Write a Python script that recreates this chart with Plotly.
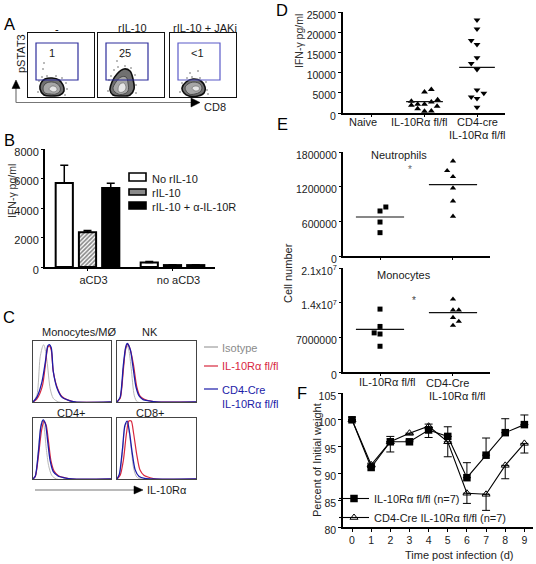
import plotly.graph_objects as go

W, H = 536, 564
FONT = "Liberation Sans, Arial, sans-serif"
INK = "#1a1a1a"
RED = "#d8283f"
BLUE = "#1c1ca8"
GREY = "#b8b8b8"

# Panel A: flow contour outlines (x, y inside each gate plot)
flow_labels = ["-", "rIL-10", "rIL-10 + JAKi"]
flow_percent = ["1", "25", "<1"]
outer_x = [[12, 13, 17, 24, 31, 35, 36, 32, 24, 16, 12],
           [12, 14, 19, 26, 32, 35, 36, 32, 22, 15, 12],
           [12, 16, 23, 31, 35, 34, 28, 19, 14, 12]]
outer_y = [[8, 14, 18, 19, 17, 12, 6, 2, 1, 2, 8],
           [7, 15, 23, 28, 26, 18, 8, 2, 1, 2, 7],
           [9, 15, 18, 16, 10, 4, 1, 1, 4, 9]]
mid_x = [[15, 17, 22, 28, 32, 32, 28, 22, 17, 15],
         [15, 18, 23, 28, 30, 30, 26, 20, 15],
         [15, 18, 24, 30, 32, 30, 25, 19, 15]]
mid_y = [[8, 13, 15, 14, 10, 6, 3, 3, 4, 8],
         [8, 15, 20, 20, 14, 6, 3, 3, 8],
         [9, 13, 15, 13, 9, 5, 3, 3, 9]]
core_x = [[21, 24, 28, 29, 26, 23, 21],
          [20, 22, 26, 28, 25, 21, 20],
          [22, 25, 29, 29, 25, 22]]
core_y = [[8, 11, 10, 7, 5, 6, 8],
          [8, 13, 14, 9, 5, 5, 8],
          [9, 11, 10, 7, 6, 9]]
speck_x = [[10, 11, 14, 19, 28, 34, 38, 39, 37, 16, 15],
           [10, 11, 13, 16, 20, 27, 33, 37, 38, 38, 19, 24],
           [10, 12, 17, 22, 30, 36, 37, 38, 20, 28]]
speck_y = [[5, 16, 20, 21, 21, 19, 14, 8, 2, 34, 28],
           [6, 17, 21, 27, 30, 31, 29, 22, 12, 4, 36, 40],
           [5, 14, 19, 20, 19, 15, 7, 3, 24, 26]]
gate_x = [8, 50]
gate_y = [17, 54]

# Panel B
b_groups = ["aCD3", "no aCD3"]
b_names = ["No rIL-10", "rIL-10", "rIL-10 + α-IL-10R"]
b_no = [5700, 300]
b_no_err = [1200, 70]
b_ril = [2350, 130]
b_ril_err = [130, 30]
b_block = [5350, 130]
b_block_err = [330, 30]
b_ticks = [0, 2000, 4000, 6000, 8000]

# Panel C: histograms (percent of channel range, percent of peak)
hist_titles = ["Monocytes/MØ", "NK", "CD4+", "CD8+"]
iso_x = [[0, 5, 9, 12, 13.6, 15, 18, 22, 26, 33, 100],
         [0, 4, 8, 11, 13, 15, 18, 22, 26, 100],
         [0, 3, 7, 10, 12, 14, 17, 20, 24, 30, 100],
         [0, 3, 7, 10, 13, 15, 18, 21, 26, 100]]
iso_y = [[0, 11, 72, 90, 94, 90, 67, 22, 6, 0, 0],
         [0, 6, 55, 85, 92, 85, 55, 10, 0, 0],
         [0, 5, 50, 88, 96, 88, 50, 22, 6, 0, 0],
         [0, 6, 45, 85, 92, 80, 50, 18, 2, 0]]
red_x = [[0, 5, 12, 16, 19, 21, 23.4, 26, 31, 37, 45, 54, 100],
         [0, 4, 8, 11, 14, 17, 21, 25, 29, 34, 41, 52, 100],
         [0, 3, 7, 11, 14, 17, 20, 23, 27, 33, 41, 50, 100],
         [0, 4, 8, 12, 15, 18, 21, 25, 29, 34, 42, 50, 100]]
red_y = [[0, 5, 26, 62, 90, 92, 85, 50, 24, 9, 3, 0, 0],
         [0, 6, 52, 88, 95, 85, 60, 25, 10, 5, 2, 0, 0],
         [0, 4, 38, 80, 95, 88, 60, 30, 13, 5, 2, 0, 0],
         [0, 6, 30, 75, 95, 95, 75, 40, 15, 6, 2, 0, 0]]
blue_x = [[0, 5, 11.5, 16, 19, 21, 23.4, 26, 31, 37, 45, 54, 100],
          [0, 4, 8, 11, 13, 17, 20, 24, 28, 33, 40, 50, 100],
          [0, 3, 7, 10, 13, 16, 19, 22, 26, 32, 40, 50, 100],
          [0, 3, 7, 10, 13, 16, 19, 23, 28, 35, 100]]
blue_y = [[0, 8, 33, 67, 92, 94, 89, 50, 22, 8, 3, 0, 0],
          [0, 8, 60, 90, 96, 85, 60, 25, 10, 4, 2, 0, 0],
          [0, 5, 45, 85, 97, 90, 60, 30, 12, 5, 2, 0, 0],
          [0, 8, 50, 88, 95, 75, 45, 15, 4, 1, 0]]

# Panel D
d_groups = ["Naive", "IL-10Rα fl/fl", "CD4-cre", "IL-10Rα fl/fl"]
d_ticks = [0, 5000, 10000, 15000, 20000, 25000]
d_wt_x = [1, 1.13, 0.75, 1.25, 0.75, 0.87, 1, 1.13, 1.24, 0.87, 1, 1.13]
d_wt_y = [5215, 5795, 2900, 3310, 1900, 2150, 2150, 2730, 1650, 1075, 415, 500]
d_wt_mean = 2800
d_ko_x = [2, 2, 1.89, 2, 2, 1.89, 2, 2, 2.13, 1.89, 2, 2]
d_ko_y = [23010, 20780, 17960, 16970, 13660, 12250, 10760, 5710, 4880, 3970, 3560, 1410]
d_ko_mean = 11300

# Panel E
e_groups = ["IL-10Rα fl/fl", "CD4-Cre", "IL-10Rα fl/fl"]
neu_ticks = [0, 600000, 1200000, 1800000]
neu_wt_x = [0, 0.08, 0, 0]
neu_wt_y = [779000, 848000, 588000, 404000]
neu_wt_mean = 675000
neu_ko_x = [1, 0.92, 1, 1, 1, 1]
neu_ko_y = [1644000, 1477000, 1373000, 1177000, 952000, 687000]
neu_ko_mean = 1235000
mono_ticks = [0, 7000000, 14000000, 21000000]
mono_ticktext = ["0", "7000000", "1.4x10<sup>7</sup>", "2.1x10<sup>7</sup>"]
mono_wt_x = [0, 0, -0.08, 0, 0]
mono_wt_y = [12700000, 9200000, 7900000, 7670000, 5200000]
mono_wt_mean = 8600000
mono_ko_x = [1, 1, 1.08, 1, 1.08, 1]
mono_ko_y = [14700000, 12500000, 12500000, 11000000, 10200000, 9400000]
mono_ko_mean = 12000000

# Panel F
days = [0, 1, 2, 3, 4, 5, 6, 7, 8, 9]
f_wt = [100, 91.1, 95.9, 95.9, 98.1, 96.9, 89.2, 93.4, 97.6, 99.1]
f_wt_up = [0.5, 0.3, 1.0, 0.3, 0.5, 1.8, 2.8, 3.2, 2.6, 1.8]
f_wt_down = [0, 0, 0, 0, 1.4, 0, 0, 0, 0, 0]
f_ko = [100, 91.6, 95.9, 97.5, 98.8, 95.9, 86.3, 86.1, 91.5, 95.6]
f_ko_up = [0, 0.3, 0, 0, 0.4, 0, 0, 0, 0, 0]
f_ko_down = [0, 0.3, 1.9, 0.3, 0.5, 2.8, 1.9, 3.0, 2.5, 1.8]
f_ticks = [80, 85, 90, 95, 100, 105]


def xdom(a, b):
    return [a / W, b / W]


def ydom(top, bottom):
    return [1 - bottom / H, 1 - top / H]


fig = go.Figure()
layout = dict(
    width=W, height=H, autosize=False,
    margin=dict(l=0, r=0, t=0, b=0, autoexpand=False),
    paper_bgcolor="white", plot_bgcolor="rgba(0,0,0,0)",
    font=dict(family=FONT, size=10.5, color=INK),
    showlegend=True,
    barmode="group", bargap=0.18, bargroupgap=0.26,
)
annotations = []
shapes = []


def label(text, px, py, size=11, color=INK, angle=0, anchor="center"):
    annotations.append(dict(
        text=text, x=px / W, y=1 - py / H, xref="paper", yref="paper",
        showarrow=False, xanchor=anchor, yanchor="middle",
        textangle=angle, font=dict(family=FONT, size=size, color=color),
    ))


def pline(x0, y0, x1, y1, color="#777777", width=1.2):
    shapes.append(dict(type="line", xref="paper", yref="paper",
                       x0=x0 / W, y0=1 - y0 / H, x1=x1 / W, y1=1 - y1 / H,
                       line=dict(color=color, width=width)))


def ptri(pts):
    path = "M" + " L".join(f"{x / W:.5f},{1 - y / H:.5f}" for x, y in pts) + " Z"
    shapes.append(dict(type="path", xref="paper", yref="paper", path=path,
                       fillcolor="black", line=dict(color="black", width=0.5)))


def swatch(x0, y0, x1, y1, fill):
    shapes.append(dict(type="rect", xref="paper", yref="paper",
                       x0=x0 / W, y0=1 - y0 / H, x1=x1 / W, y1=1 - y1 / H,
                       fillcolor=fill, line=dict(color="black", width=1.6)))


def set_axes(n, xd, yd, xcfg, ycfg):
    layout[f"xaxis{n}"] = dict(domain=xd, anchor=f"y{n}", **xcfg)
    layout[f"yaxis{n}"] = dict(domain=yd, anchor=f"x{n}", **ycfg)


frame = dict(showline=True, linecolor="#111111", linewidth=1.2, mirror=True,
             showgrid=False, zeroline=False, showticklabels=False, ticks="")
plain = dict(showline=True, linecolor="black", linewidth=2, showgrid=False,
             zeroline=False, ticks="outside", ticklen=2, tickwidth=1.2, tickcolor="black",
             tickformat="d",
             tickfont=dict(family=FONT, size=10.5, color=INK))
plain_y = dict(plain, ticklabelshift=3)

# ---------- A ----------
flow_left = [28, 98, 170]
for i, left in enumerate(flow_left):
    n = i + 1
    set_axes(n, xdom(left, left + 66), ydom(33, 97),
             dict(frame, range=[0, 66]), dict(frame, range=[0, 64]))
    fig.add_trace(go.Scatter(x=speck_x[i], y=speck_y[i], mode="markers", xaxis=f"x{n}", yaxis=f"y{n}",
                             marker=dict(size=1.5, color="#555555"), showlegend=False))
    fig.add_trace(go.Scatter(x=outer_x[i], y=outer_y[i], mode="lines", fill="toself", xaxis=f"x{n}", yaxis=f"y{n}",
                             fillcolor="#707070", line=dict(color="#0d0d0d", width=1.6, shape="spline"),
                             showlegend=False))
    fig.add_trace(go.Scatter(x=mid_x[i], y=mid_y[i], mode="lines", fill="toself", xaxis=f"x{n}", yaxis=f"y{n}",
                             fillcolor="#a6a6a6", line=dict(color="#4a4a4a", width=1, shape="spline"),
                             showlegend=False))
    fig.add_trace(go.Scatter(x=core_x[i], y=core_y[i], mode="lines", fill="toself", xaxis=f"x{n}", yaxis=f"y{n}",
                             fillcolor="#e6e6e6", line=dict(color="#777777", width=0.8, shape="spline"),
                             showlegend=False))
    shapes.append(dict(type="rect", xref=f"x{n}", yref=f"y{n}",
                       x0=gate_x[0], x1=gate_x[1], y0=gate_y[0], y1=gate_y[1],
                       line=dict(color="#2d2d9c" if i < 2 else "#5a5ac8", width=1.2)))
label(flow_labels[0], 57, 29, 11, "#000000")
label(flow_labels[1], 132, 28)
label(flow_labels[2], 205, 28)
label(flow_percent[0], 52, 53)
label(flow_percent[1], 125, 53)
label(flow_percent[2], 197, 53)
label("pSTAT3", 21, 54, angle=-90)
label("CD8", 215, 107)
pline(16, 102.5, 193, 102.5)
pline(16, 102.5, 16, 88)
ptri([(12, 88.5), (20, 88.5), (16, 80)])
ptri([(191, 98), (191, 107), (200, 102.5)])

# ---------- B ----------
set_axes(4, xdom(45, 215), ydom(149, 267),
         dict(plain, type="category", categoryorder="array", categoryarray=b_groups,
              tickfont=dict(family=FONT, size=11, color=INK), ticklabelshift=6),
         dict(plain_y, range=[0, 8000], tickvals=b_ticks, tickfont=dict(family=FONT, size=11, color=INK)))
bar_line = dict(color="black", width=2)
for name, vals, err, marker in [
    (b_names[0], b_no, b_no_err, dict(color="white", line=bar_line)),
    (b_names[1], b_ril, b_ril_err,
     dict(color="white", line=bar_line,
          pattern=dict(shape="/", fgcolor="#111111", bgcolor="white", size=3, solidity=0.55))),
    (b_names[2], b_block, b_block_err, dict(color="black", line=bar_line)),
]:
    fig.add_trace(go.Bar(x=b_groups, y=vals, name=name, marker=marker, xaxis="x4", yaxis="y4", showlegend=False,
                         error_y=dict(type="data", array=err, arrayminus=[0, 0], symmetric=False,
                                      color="black", thickness=1.5, width=4)))
swatch(129, 173, 146, 181, "white")
swatch(129, 189, 146, 195, "#8a8a8a")
swatch(129, 202, 146, 209, "black")
label(b_names[0], 150, 179, anchor="left")
label(b_names[1], 150, 193, anchor="left")
label(b_names[2], 150, 207, anchor="left")
label("IFN-γ pg/ml", 12, 191, 10.5, "#333333", angle=-90)

# ---------- C ----------
hist_boxes = [(33, 111, 341, 402), (117, 196, 341, 402), (33, 111, 418, 479), (117, 196, 418, 479)]
hist_title_pos = [(79, 332), (150, 332), (71, 413), (150, 413)]
for i, (l, r, t, b) in enumerate(hist_boxes):
    n = 5 + i
    set_axes(n, xdom(l, r), ydom(t, b),
             dict(frame, range=[0, 100], linecolor="#444444"),
             dict(frame, range=[0, 100], linecolor="#444444"))
    for xs, ys, c, w in [(iso_x[i], iso_y[i], GREY, 1), (red_x[i], red_y[i], RED, 1.2),
                         (blue_x[i], blue_y[i], BLUE, 1.3)]:
        fig.add_trace(go.Scatter(x=xs, y=ys, mode="lines", xaxis=f"x{n}", yaxis=f"y{n}",
                                 line=dict(color=c, width=w, shape="spline", smoothing=0.7),
                                 showlegend=False))
    label(hist_titles[i], *hist_title_pos[i])
pline(204, 347, 218, 347, "#8a8a8a", 1)
label("Isotype", 220, 348, 11, "#8a8a8a", anchor="left")
pline(204, 366, 218, 366, RED, 1.2)
label("IL-10Rα fl/fl", 220, 366, 11, RED, anchor="left")
pline(204, 389, 218, 389, BLUE, 1.2)
label("CD4-Cre", 220, 390, 11, BLUE, anchor="left")
label("IL-10Rα fl/fl", 220, 404, 11, BLUE, anchor="left")
pline(35, 490, 135, 490)
ptri([(134, 486), (134, 494), (143, 490)])
label("IL-10Rα", 145, 490, anchor="left")


def cross(xc, half, value, xa, ya):
    fig.add_trace(go.Scatter(x=[xc - half, xc + half], y=[value, value], mode="lines", xaxis=xa, yaxis=ya,
                             line=dict(color="#111111", width=1.2), showlegend=False))


def dots(xs, ys, sym, size, xa, ya):
    fig.add_trace(go.Scatter(x=xs, y=ys, mode="markers", xaxis=xa, yaxis=ya,
                             marker=dict(symbol=sym, size=size, color="black"), showlegend=False))


# ---------- D ----------
set_axes(9, xdom(343, 505), ydom(12, 113),
         dict(plain, range=[-0.552, 2.533], tickvals=[0, 1, 2], showticklabels=False),
         dict(plain_y, range=[0, 25000], tickvals=d_ticks, ticklen=3))
dots(d_wt_x, d_wt_y, "triangle-up", 6, "x9", "y9")
dots(d_ko_x, d_ko_y, "triangle-down", 6, "x9", "y9")
cross(1, 0.35, d_wt_mean, "x9", "y9")
cross(2, 0.34, d_ko_mean, "x9", "y9")
label(d_groups[0], 363, 122)
label(d_groups[1], 419, 122)
label(d_groups[2], 477, 122)
label(d_groups[3], 477, 135)
label("IFN-γ pg/ml", 299, 41, 10.5, "#333333", angle=-90)

# ---------- E ----------
set_axes(10, xdom(343, 490), ydom(152, 256),
         dict(plain, range=[-0.507, 1.507], tickvals=[0, 1], showticklabels=False),
         dict(plain_y, range=[0, 1800000], tickvals=neu_ticks, ticktext=[str(v) for v in neu_ticks]))
dots(neu_wt_x, neu_wt_y, "square", 5, "x10", "y10")
dots(neu_ko_x, neu_ko_y, "triangle-up", 5.5, "x10", "y10")
cross(0, 0.33, neu_wt_mean, "x10", "y10")
cross(1, 0.33, neu_ko_mean, "x10", "y10")
set_axes(11, xdom(343, 490), ydom(268, 372),
         dict(plain, range=[-0.507, 1.507], tickvals=[0, 1], showticklabels=False),
         dict(plain_y, range=[0, 21000000], tickvals=mono_ticks, ticktext=mono_ticktext))
dots(mono_wt_x, mono_wt_y, "square", 5, "x11", "y11")
dots(mono_ko_x, mono_ko_y, "triangle-up", 5.5, "x11", "y11")
cross(0, 0.33, mono_wt_mean, "x11", "y11")
cross(1, 0.33, mono_ko_mean, "x11", "y11")
label("Neutrophils", 399, 155)
label("Monocytes", 404, 275)
label("*", 410, 170, 10, "#666666")
label("*", 414, 300, 10, "#444444")
label("Cell number", 288, 273, 11, "#222222", angle=-90)
label(e_groups[0], 387, 382)
label(e_groups[1], 447, 383)
label(e_groups[2], 457, 396)

# ---------- F ----------
set_axes(12, xdom(343, 533), ydom(393, 527),
         dict(plain, range=[-0.47, 9.45], tickvals=days, linewidth=1.5, ticklen=3),
         dict(plain_y, range=[80, 105], tickvals=f_ticks, linewidth=1.5, ticklen=3))
fig.add_trace(go.Scatter(x=days, y=f_ko, name="CD4-Cre IL-10Rα fl/fl (n=7)", mode="lines+markers",
                         xaxis="x12", yaxis="y12", legend="legend2",
                         line=dict(color="black", width=1.1),
                         marker=dict(symbol="triangle-up-open", size=7, color="black", line=dict(width=1)),
                         error_y=dict(type="data", array=f_ko_up, arrayminus=f_ko_down, symmetric=False,
                                      color="black", thickness=1, width=4)))
fig.add_trace(go.Scatter(x=days, y=f_wt, name="IL-10Rα fl/fl (n=7)", mode="lines+markers",
                         xaxis="x12", yaxis="y12", legend="legend2",
                         line=dict(color="black", width=1.1),
                         marker=dict(symbol="square", size=7.5, color="black"),
                         error_y=dict(type="data", array=f_wt_up, arrayminus=f_wt_down, symmetric=False,
                                      color="black", thickness=1, width=4)))
layout["legend2"] = dict(x=334 / W, y=1 - 484 / H, xanchor="left", yanchor="top", bgcolor="rgba(0,0,0,0)",
                         font=dict(family=FONT, size=11, color=INK), itemwidth=30, traceorder="reversed",
                         itemclick=False, itemdoubleclick=False)
label("Percent of Initial weight", 317, 460, 11, "#222222", angle=-90)
label("Time post infection (d)", 459, 555, 11, "#222222")

# Panel letters
for letter, px, py in [("A", 9, 24), ("B", 9, 140), ("C", 9, 317), ("D", 282, 10), ("E", 282, 124), ("F", 302, 393)]:
    label(letter, px, py, 16.5, "#000000")

layout["annotations"] = annotations
layout["shapes"] = shapes
fig.update_layout(**layout)
fig.write_html("out.html", config=dict(displayModeBar=False),
               post_script="document.body.style.margin='0';document.body.style.overflow='hidden';")
